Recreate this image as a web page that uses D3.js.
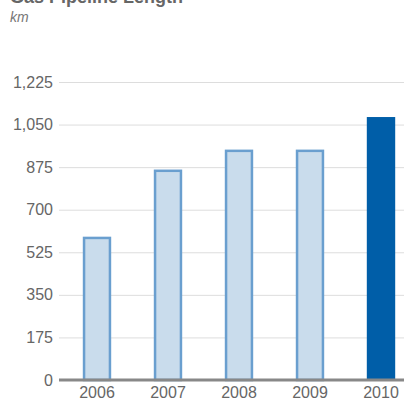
<!DOCTYPE html>
<html><head><meta charset="utf-8">
<script src="https://cdn.jsdelivr.net/npm/d3@7"></script>
<style>body{margin:0;background:#fff}svg{display:block}text{font-family:"Liberation Sans",Arial,sans-serif}</style>
</head><body><svg id="c" width="404" height="401"></svg>
<script>
const years = ["2006","2007","2008","2009","2010"];
const lengths = [584, 860, 942, 942, 1081];
const highlight = [false,false,false,false,true];
const yTicks = [0,175,350,525,700,875,1050,1225];

const svg = d3.select("#c");
const x = d3.scaleBand().domain(years).range([61.5,416.5]).paddingInner(0.6).paddingOuter(0.3);
const y = d3.scaleLinear().domain([0,1225]).range([380,82]);

svg.append("text").attr("x",10).attr("y",3).attr("font-size",18).attr("font-weight","bold").attr("fill","#666").text("Gas Pipeline Length");
svg.append("text").attr("x",10).attr("y",22).attr("font-size",14).attr("font-style","italic").attr("fill","#777").text("km");

const ya = svg.append("g").attr("transform","translate(59,0)")
  .call(d3.axisLeft(y).tickValues(yTicks).tickFormat(d3.format(",")).tickSize(-345).tickPadding(6));
ya.select(".domain").remove();
ya.selectAll(".tick line").attr("stroke","#ddd").attr("stroke-width",1);
ya.selectAll(".tick text").attr("font-size",16).attr("fill","#666").attr("font-family","Liberation Sans, Arial, sans-serif");

svg.append("g").selectAll("rect").data(years).join("rect")
  .attr("x",(d,i)=> highlight[i] ? x(d) : x(d)+1.25)
  .attr("width",(d,i)=> highlight[i] ? x.bandwidth() : x.bandwidth()-2.5)
  .attr("y",(d,i)=> y(lengths[i]))
  .attr("height",(d,i)=> y(0)-y(lengths[i]))
  .attr("fill",(d,i)=> highlight[i] ? "#005ea8" : "#c9dcec")
  .attr("stroke",(d,i)=> highlight[i] ? "none" : "#6a9fcf")
  .attr("stroke-width",2.5);

const xa = svg.append("g").attr("transform","translate(0,380)")
  .call(d3.axisBottom(x).tickSize(0).tickPadding(7));
xa.select(".domain").remove();
xa.selectAll(".tick text").attr("font-size",16).attr("fill","#666").attr("font-family","Liberation Sans, Arial, sans-serif");
svg.append("line").attr("x1",59).attr("x2",404).attr("y1",380).attr("y2",380).attr("stroke","#888").attr("stroke-width",3);
</script></body></html>
